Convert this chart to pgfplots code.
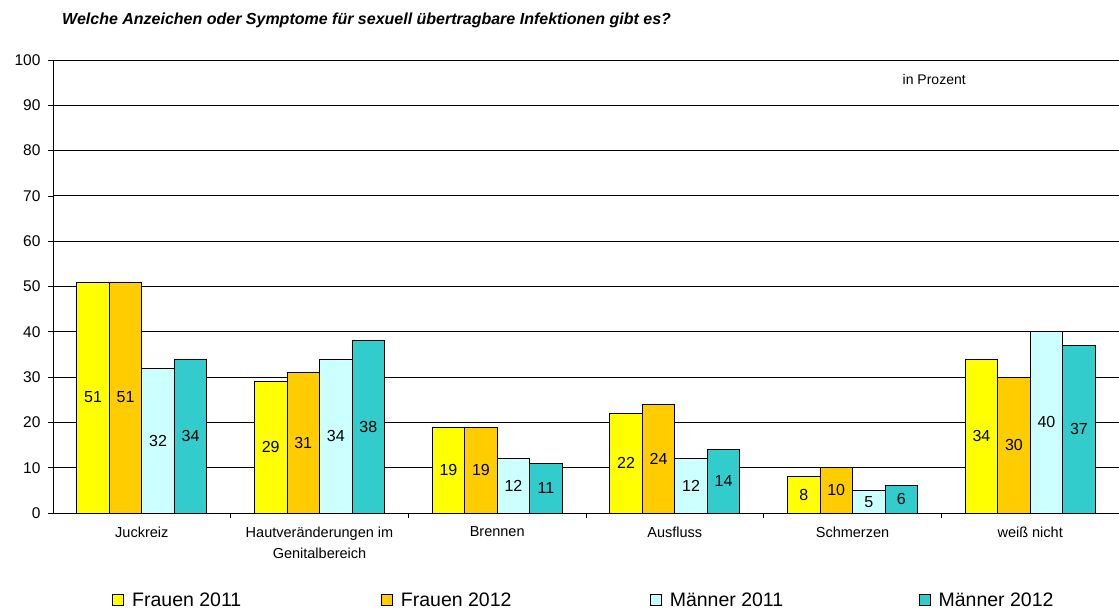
\documentclass[border=0pt]{standalone}
\usepackage{pgfplots}
\pgfplotsset{compat=1.18}
\usepackage{fontspec}
\setmainfont{Liberation Sans}

\definecolor{fr11}{HTML}{FFFF00}
\definecolor{fr12}{HTML}{FFCC00}
\definecolor{ma11}{HTML}{CCFFFF}
\definecolor{ma12}{HTML}{33CCCC}

\begin{document}
\begin{tikzpicture}
\begin{axis}[
    name=ax,
    scale only axis,
    width=1066pt, height=453pt,
    ybar=0pt,
    bar width=0.183,
    xmin=-0.5, xmax=5.5,
    ymin=0, ymax=100,
    ytick={0,10,...,100},
    xtick={0,1,2,3,4,5},
    xticklabels={Juckreiz, {Hautveränderungen im\\Genitalbereich}, Brennen, Ausfluss, Schmerzen, weiß nicht},
    minor xtick={0.5,1.5,2.5,3.5,4.5},
    major x tick style={draw=none},
    minor tick length=5pt,
    major tick length=5pt,
    tick align=outside,
    tick style={black, line width=0.8pt},
    axis lines*=left,
    axis line style={-, line width=0.9pt},
    ymajorgrids=true,
    grid style={black, line width=0.9pt},
    /pgf/number format/assume math mode=true,
    yticklabel style={font=\fontsize{15.5}{18}\selectfont, xshift=-4pt},
    xticklabel style={font=\fontsize{14.5}{21}\selectfont, align=center, yshift=-5pt},
    nodes near coords,
    visualization depends on={y \as \rawy},
    every node near coord/.append style={
        font=\fontsize{16}{18}\selectfont, anchor=center,
        shift={(axis direction cs:0,-\rawy/2)}},
    legend columns=4,
    legend style={draw=none, fill=none, at={(0.0555,-0.192)}, anchor=west,
        font=\fontsize{19.5}{21}\selectfont, inner sep=0pt,
        /tikz/every even column/.append style={column sep=0pt}},
    legend image code/.code={\draw[#1, draw=black, line width=0.8pt] (0pt,-5pt) rectangle (11pt,5.5pt);},
]
\addplot[fill=fr11, draw=black, line width=0.8pt] coordinates {(0,51) (1,29) (2,19) (3,22) (4,8) (5,34)};
\addplot[fill=fr12, draw=black, line width=0.8pt] coordinates {(0,51) (1,31) (2,19) (3,24) (4,10) (5,30)};
\addplot[fill=ma11, draw=black, line width=0.8pt] coordinates {(0,32) (1,34) (2,12) (3,12) (4,5) (5,40)};
\addplot[fill=ma12, draw=black, line width=0.8pt] coordinates {(0,34) (1,38) (2,11) (3,14) (4,6) (5,37)};
\legend{\hspace*{6pt}\makebox[247pt][l]{Frauen 2011}, \hspace*{6pt}\makebox[247pt][l]{Frauen 2012}, \hspace*{6pt}\makebox[247pt][l]{Männer 2011}, \hspace*{6pt}Männer 2012}
\node[font=\fontsize{14}{16}\selectfont] at (axis cs:4.46,95.6) {in Prozent};
\end{axis}
\node[anchor=west, font=\fontsize{16}{18}\selectfont\bfseries\itshape, inner sep=0pt]
    at ([xshift=9pt, yshift=40pt]ax.north west)
    {Welche Anzeichen oder Symptome für sexuell übertragbare Infektionen gibt es?};
\pgfresetboundingbox
\path ([xshift=-53pt, yshift=-99pt]ax.south west) rectangle ([yshift=60pt]ax.north east);
\end{tikzpicture}
\end{document}
